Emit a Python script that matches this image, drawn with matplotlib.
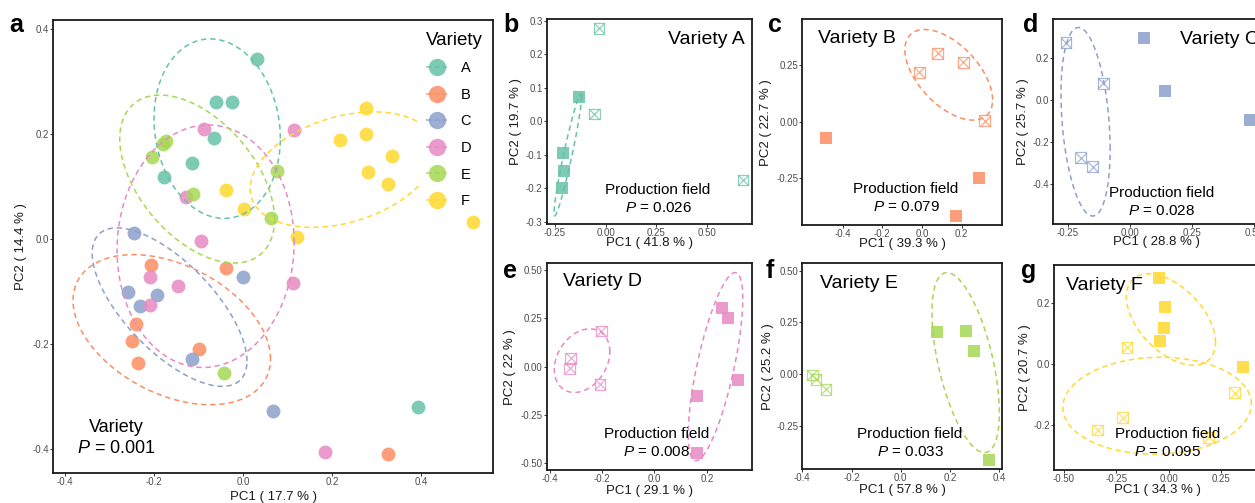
import numpy as np
import matplotlib
matplotlib.use("Agg")
import matplotlib.pyplot as plt
from matplotlib.lines import Line2D
from matplotlib.ticker import FormatStrFormatter

plt.rcParams['font.family'] = ['Liberation Sans', 'DejaVu Sans']
plt.rcParams['mathtext.fontset'] = 'custom'
plt.rcParams['mathtext.rm'] = 'Liberation Sans'
plt.rcParams['mathtext.it'] = 'Liberation Sans:italic'

varieties = ['A', 'B', 'C', 'D', 'E', 'F']
colors = ['#66C2A5', '#FC8D62', '#8DA0CB', '#E78AC3', '#A6D854', '#FFD92F']

# ---- panel a: all samples, coloured by variety ----
a_pc1 = [
    [0.031, -0.061, -0.025, -0.065, -0.115, -0.178, 0.393],
    [-0.206, -0.038, -0.241, -0.250, -0.236, -0.099, 0.325],
    [-0.245, -0.258, -0.231, -0.194, 0.000, -0.115, 0.068],
    [-0.087, 0.115, -0.128, -0.094, -0.209, -0.146, -0.209, 0.113, 0.184],
    [-0.180, -0.173, -0.205, -0.112, 0.077, 0.062, -0.043],
    [0.276, 0.218, 0.276, 0.335, 0.281, 0.325, -0.038, 0.003, 0.121, 0.517],
]
a_pc2 = [
    [0.343, 0.261, 0.261, 0.192, 0.145, 0.118, -0.320],
    [-0.049, -0.055, -0.162, -0.194, -0.236, -0.210, -0.410],
    [0.011, -0.102, -0.128, -0.107, -0.072, -0.229, -0.327],
    [0.209, 0.208, 0.080, -0.004, -0.072, -0.090, -0.126, -0.084, -0.406],
    [0.181, 0.187, 0.156, 0.086, 0.130, 0.040, -0.255],
    [0.250, 0.189, 0.200, 0.157, 0.128, 0.105, 0.093, 0.057, 0.004, 0.033],
]
# ellipses: centre x, centre y, half width, half height, tilt (rho)
a_ell = [
    (-0.058, 0.210, 0.142, 0.171, -0.11),
    (-0.160, -0.173, 0.222, 0.143, -0.39),
    (-0.165, -0.130, 0.174, 0.151, -0.68),
    (-0.084, -0.014, 0.199, 0.231, 0.03),
    (-0.103, 0.114, 0.174, 0.160, -0.48),
    (0.225, 0.132, 0.209, 0.110, 0.33),
]
a_ticks = [-0.4, -0.2, 0.0, 0.2, 0.4]

# ---- panels b-g: one variety each, filled = one field, open = other field ----
b_fill_x = [-0.132, -0.210, -0.206, -0.215]
b_fill_y = [0.073, -0.096, -0.148, -0.200]
b_open_x = [-0.033, -0.056, 0.678]
b_open_y = [0.277, 0.021, -0.176]
b_ell = [(-0.187, -0.101, 0.068, 0.182, 0.95)]

c_fill_x = [-0.484, 0.289, 0.171]
c_fill_y = [-0.071, -0.250, -0.416]
c_open_x = [-0.013, 0.079, 0.208, 0.317]
c_open_y = [0.218, 0.302, 0.262, 0.004]
c_ell = [(0.135, 0.207, 0.221, 0.200, -0.55)]

d_fill_x = [0.056, 0.142, 0.484]
d_fill_y = [0.294, 0.043, -0.095]
d_open_x = [-0.258, -0.108, -0.199, -0.150]
d_open_y = [0.274, 0.080, -0.275, -0.318]
d_ell = [(-0.179, -0.104, 0.099, 0.450, -0.29)]

e_fill_x = [0.259, 0.279, 0.320, 0.161, 0.161]
e_fill_y = [0.306, 0.251, -0.069, -0.152, -0.446]
e_open_x = [-0.202, -0.319, -0.323, -0.208]
e_open_y = [0.185, 0.044, -0.008, -0.091]
e_ell = [(-0.276, 0.031, 0.106, 0.165, 0.28), (0.233, 0.0, 0.104, 0.488, 0.72)]

f_fill_x = [0.147, 0.266, 0.298, 0.360]
f_fill_y = [0.205, 0.208, 0.111, -0.416]
f_open_x = [-0.359, -0.344, -0.304]
f_open_y = [-0.005, -0.026, -0.074]
f_ell = [(0.264, 0.055, 0.137, 0.435, -0.556)]

g_fill_x = [-0.046, -0.016, -0.021, -0.040, 0.356]
g_fill_y = [0.283, 0.187, 0.120, 0.077, -0.010]
g_open_x = [-0.200, -0.221, -0.340, 0.314, 0.191]
g_open_y = [0.056, -0.175, -0.216, -0.093, -0.240]
g_ell = [(0.010, 0.147, 0.213, 0.150, -0.5), (-0.056, -0.136, 0.450, 0.159, 0.035)]

pc1_pct = ['17.7', '41.8', '39.3', '28.8', '29.1', '57.8', '34.3']
pc2_pct = ['14.4', '19.7', '22.7', '25.7', '22', '25.2', '20.7']
p_values = ['0.001', '0.026', '0.079', '0.028', '0.008', '0.033', '0.095']


def ellipse_xy(cx, cy, sx, sy, rho):
    t = np.linspace(0, 2 * np.pi, 200)
    x = cx + sx * np.cos(t)
    y = cy + sy * (rho * np.cos(t) + np.sqrt(1 - rho ** 2) * np.sin(t))
    return x, y


def style_axes(ax):
    for s in ax.spines.values():
        s.set_linewidth(1.3)
        s.set_color('#1a1a1a')
    ax.tick_params(length=2, width=0.7, color='#333333', labelsize=7,
                   labelcolor='#4d4d4d', pad=1)


def set_labels(ax, i, xl, yl):
    ax.set_xlabel('PC1 ( ' + pc1_pct[i] + ' % )', fontsize=9.5, color='#1a1a1a')
    ax.set_ylabel('PC2 ( ' + pc2_pct[i] + ' % )', fontsize=9.5, color='#1a1a1a')
    ax.xaxis.set_label_coords(0.5, xl)
    ax.xaxis.label.set_va('center')
    ax.yaxis.set_label_coords(yl, 0.5)
    ax.yaxis.label.set_va('center')


fig = plt.figure(figsize=(12.55, 5.03), dpi=100)
W, H = 1255.0, 503.0


def add_ax(l, t, r, b):
    return fig.add_axes([l / W, 1 - b / H, (r - l) / W, (b - t) / H])


# ---- panel a ----
ax = add_ax(53, 20, 493, 473)
for k in range(6):
    ax.scatter(a_pc1[k], a_pc2[k], s=100, color=colors[k], alpha=0.85,
               linewidths=0, zorder=2)
for k in range(6):
    ex, ey = ellipse_xy(*a_ell[k])
    ax.plot(ex, ey, color=colors[k], lw=1.1, ls=(0, (3.5, 2.5)), zorder=3)
ax.set_xlim(-0.427, 0.562)
ax.set_ylim(-0.446, 0.417)
ax.set_xticks(a_ticks)
ax.set_yticks(a_ticks)
ax.xaxis.set_major_formatter(FormatStrFormatter('%.1f'))
ax.yaxis.set_major_formatter(FormatStrFormatter('%.1f'))
style_axes(ax)
set_labels(ax, 0, -0.052, -0.072)
ax.text(0.143, 0.1015, 'Variety', transform=ax.transAxes, ha='center',
        va='center', fontsize=13)
ax.text(0.143, 0.055, '$P$ = ' + p_values[0], transform=ax.transAxes,
        ha='center', va='center', fontsize=13)
handles = [Line2D([], [], color=colors[k], marker='o', markersize=12.5,
                  markeredgewidth=0, alpha=0.85, ls='--', lw=1.1)
           for k in range(6)]
leg = ax.legend(handles, varieties, title='Variety', loc='upper left',
                bbox_to_anchor=(0.832, 0.99), fontsize=10.5,
                title_fontsize=13.5, frameon=True, facecolor='white',
                edgecolor='none', framealpha=1, borderpad=0.5,
                borderaxespad=0, handlelength=1.44, handletextpad=0.9,
                labelspacing=0.86, alignment='left')
leg.set_zorder(5)

# ---- panels b-g ----
small = [
    ('b', (546.7, 19.3, 751.7, 224), b_fill_x, b_fill_y, b_open_x, b_open_y, b_ell),
    ('c', (802.3, 19.3, 1002.3, 225), c_fill_x, c_fill_y, c_open_x, c_open_y, c_ell),
    ('d', (1053.3, 19.3, 1260, 224), d_fill_x, d_fill_y, d_open_x, d_open_y, d_ell),
    ('e', (546.7, 263.3, 751.7, 470), e_fill_x, e_fill_y, e_open_x, e_open_y, e_ell),
    ('f', (802.3, 263.3, 1002.3, 469.3), f_fill_x, f_fill_y, f_open_x, f_open_y, f_ell),
    ('g', (1054, 265, 1260, 470), g_fill_x, g_fill_y, g_open_x, g_open_y, g_ell),
]
lims = [
    ((-0.291, 0.721), (-0.307, 0.304), [-0.25, 0, 0.25, 0.5], '%.2f', [-0.3, -0.2, -0.1, 0, 0.1, 0.2, 0.3], '%.1f'),
    ((-0.603, 0.405), (-0.456, 0.452), [-0.4, -0.2, 0, 0.2], '%.1f', [-0.25, 0, 0.25], '%.2f'),
    ((-0.309, 0.524), (-0.592, 0.385), [-0.25, 0, 0.25, 0.5], '%.2f', [-0.4, -0.2, 0, 0.2], '%.1f'),
    ((-0.411, 0.371), (-0.536, 0.536), [-0.4, -0.2, 0, 0.2], '%.1f', [-0.5, -0.25, 0, 0.25, 0.5], '%.2f'),
    ((-0.397, 0.413), (-0.461, 0.535), [-0.4, -0.2, 0, 0.2, 0.4], '%.1f', [-0.25, 0, 0.25, 0.5], '%.2f'),
    ((-0.548, 0.435), (-0.347, 0.326), [-0.5, -0.25, 0, 0.25], '%.2f', [-0.2, 0, 0.2], '%.1f'),
]
# text placement (axes fraction): variety title x, ha, y ; field text x, y1, y2 ; label coords
texts = [
    (0.967, 'right', 0.899, 0.543, 0.166, 0.078, -0.094, -0.15),
    (0.079, 'left', 0.908, 0.519, 0.174, 0.086, -0.09, -0.18),
    (0.613, 'left', 0.899, 0.524, 0.153, 0.065, -0.09, -0.145),
    (0.081, 'left', 0.911, 0.537, 0.174, 0.086, -0.1, -0.181),
    (0.0885, 'left', 0.903, 0.539, 0.171, 0.083, -0.102, -0.17),
    (0.058, 'left', 0.902, 0.551, 0.176, 0.089, -0.1, -0.141),
]

for i, (letter, box, fx, fy, ox, oy, ells) in enumerate(small):
    col = colors[i]
    ax = add_ax(*box)
    ax.scatter(fx, fy, marker='s', s=64, color=col, alpha=0.85, linewidths=0, zorder=2)
    ax.scatter(ox, oy, marker='s', s=60, facecolors='none', edgecolors=col,
               alpha=0.75, linewidths=0.9, zorder=2)
    ax.scatter(ox, oy, marker='x', s=60, color=col, alpha=0.75, linewidths=0.9, zorder=2)
    for el in ells:
        ex, ey = ellipse_xy(*el)
        ax.plot(ex, ey, color=col, lw=1.1, ls=(0, (3.5, 2.5)), zorder=3)
    xlim, ylim, xt, xf, yt, yf = lims[i]
    ax.set_xlim(*xlim)
    ax.set_ylim(*ylim)
    ax.set_xticks(xt)
    ax.set_yticks(yt)
    ax.xaxis.set_major_formatter(FormatStrFormatter(xf))
    ax.yaxis.set_major_formatter(FormatStrFormatter(yf))
    style_axes(ax)
    tx, ha, ty, px, py1, py2, xl, yl = texts[i]
    set_labels(ax, i + 1, xl, yl)
    ax.text(tx, ty, 'Variety ' + varieties[i], transform=ax.transAxes, ha=ha,
            va='center', fontsize=14, zorder=4)
    ax.text(px, py1, 'Production field', transform=ax.transAxes, ha='center',
            va='center', fontsize=11, zorder=4)
    ax.text(px, py2, '$P$ = ' + p_values[i + 1], transform=ax.transAxes,
            ha='center', va='center', fontsize=11, zorder=4)

# panel letters
for letter, x, y in [('a', 9, 32), ('b', 503, 32), ('c', 768, 32), ('d', 1023, 32),
                     ('e', 503, 278), ('f', 766, 278), ('g', 1021, 278)]:
    fig.text(x / W, 1 - y / H, letter, fontsize=18, fontweight='bold',
             ha='left', va='baseline')

fig.savefig('out.png', dpi=100)
